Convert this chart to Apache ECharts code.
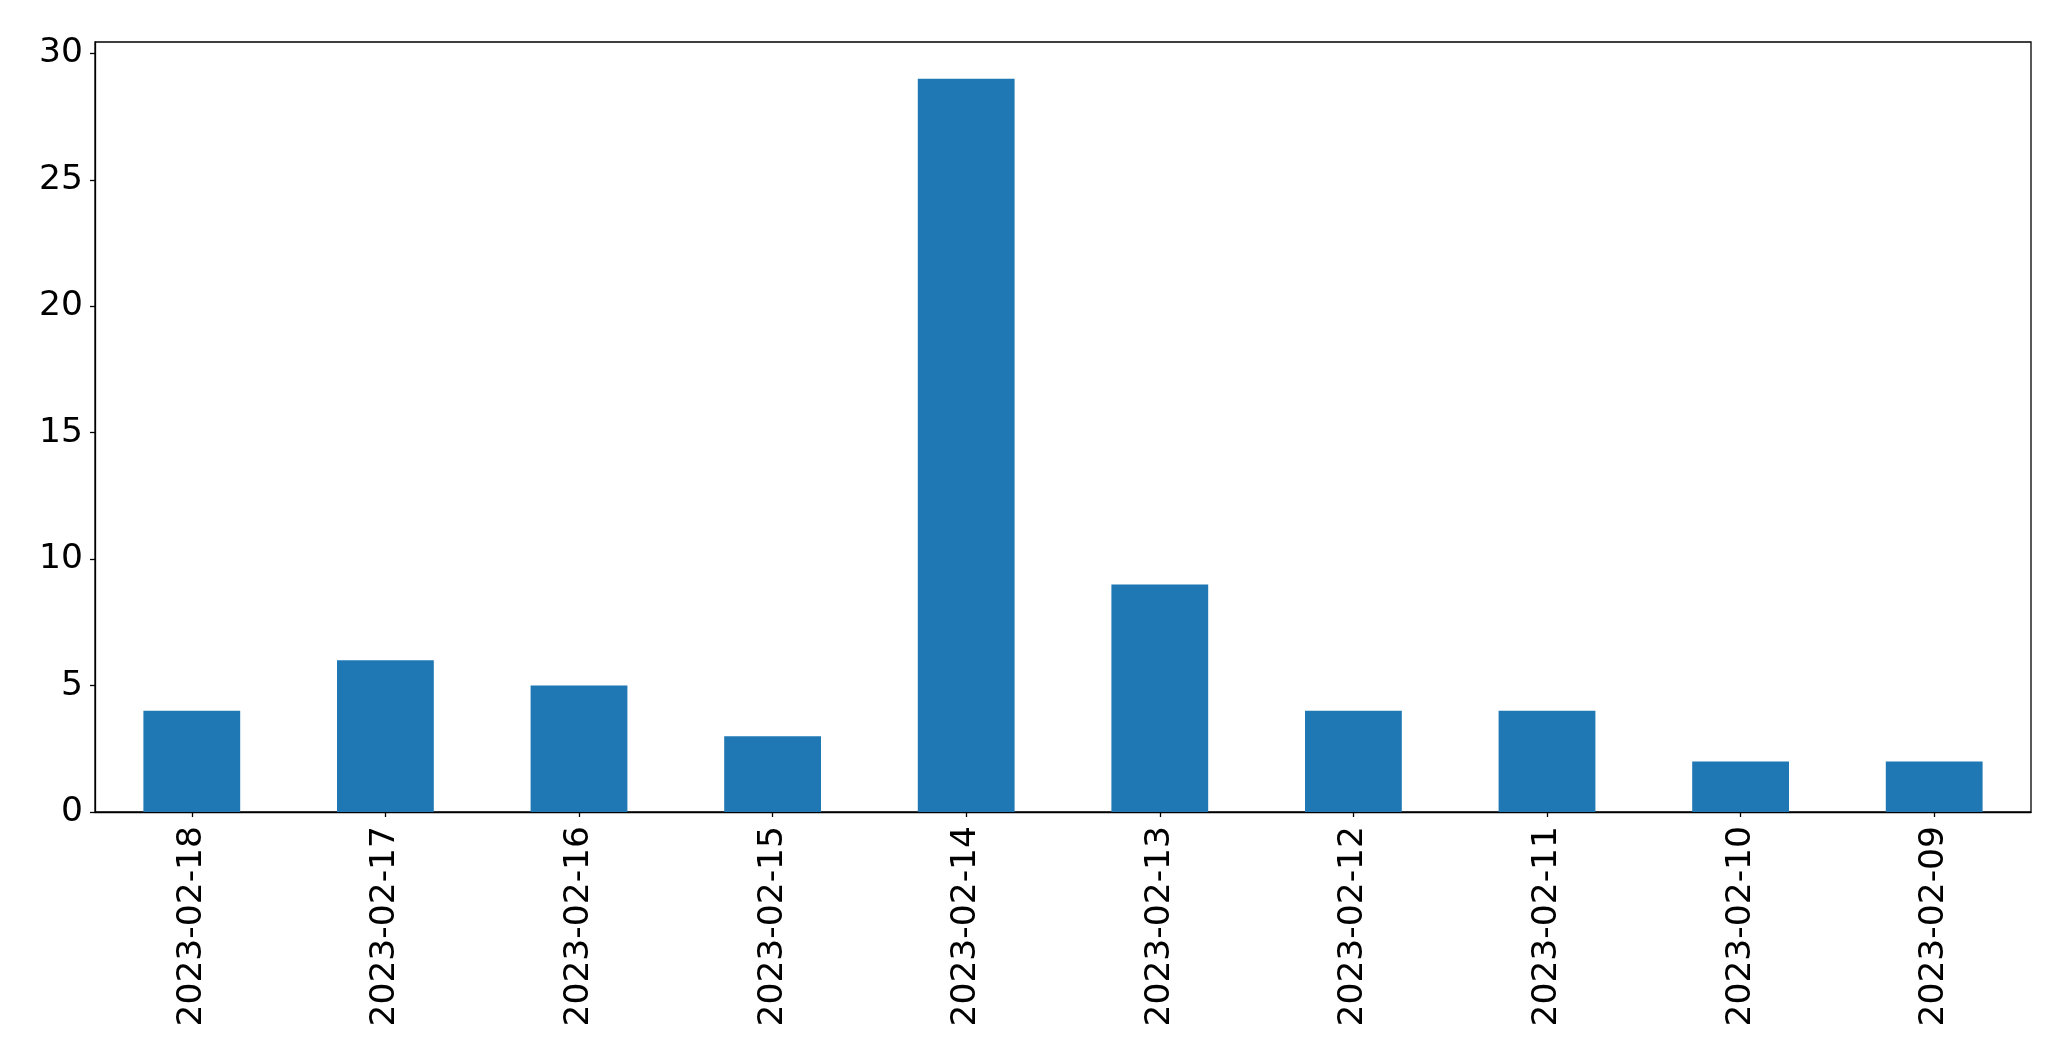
<!DOCTYPE html>
<html>
<head>
<meta charset="utf-8">
<script src="https://cdn.jsdelivr.net/npm/echarts@6/dist/echarts.min.js"></script>
<style>
html,body{margin:0;padding:0;background:#fff;}
#chart{width:2071px;height:1064px;}
</style>
</head>
<body>
<div id="chart"></div>
<script>
const categories = ['2023-02-18','2023-02-17','2023-02-16','2023-02-15','2023-02-14','2023-02-13','2023-02-12','2023-02-11','2023-02-10','2023-02-09'];
const values = [4, 6, 5, 3, 29, 9, 4, 4, 2, 2];
const yTicks = [0, 5, 10, 15, 20, 25, 30];

const chart = echarts.init(document.getElementById('chart'), null, {renderer: 'canvas'});
const font = 'DejaVu Sans';
chart.setOption({
  animation: false,
  backgroundColor: '#ffffff',
  grid: {left: 95, right: 40, top: 42, bottom: 252, show: true, borderColor: '#000', borderWidth: 1.3, backgroundColor: 'transparent'},
  xAxis: {
    type: 'category',
    data: categories,
    axisLine: {show: true, lineStyle: {color: '#000', width: 1.3}},
    axisTick: {show: true, alignWithLabel: true, length: 5, lineStyle: {color: '#000', width: 1.3}},
    axisLabel: {rotate: 90, margin: 14, color: '#000', fontSize: 34.5, fontFamily: font, interval: 0},
    splitLine: {show: false}
  },
  yAxis: {
    type: 'value',
    min: 0,
    max: 30.45,
    interval: 5,
    axisLine: {show: true, lineStyle: {color: '#000', width: 1.3}},
    axisTick: {show: true, length: 5, lineStyle: {color: '#000', width: 1.3}},
    axisLabel: {
      margin: 12, color: '#000', fontSize: 34.5, fontFamily: font,
      padding: [6, 0, 0, 0],
      showMaxLabel: false,
      formatter: function (v) { return yTicks.indexOf(v) >= 0 ? String(v) : ''; }
    },
    splitLine: {show: false}
  },
  series: [{
    type: 'bar',
    data: values,
    barWidth: '50%',
    itemStyle: {color: '#1f77b4'}
  }]
});
</script>
</body>
</html>
